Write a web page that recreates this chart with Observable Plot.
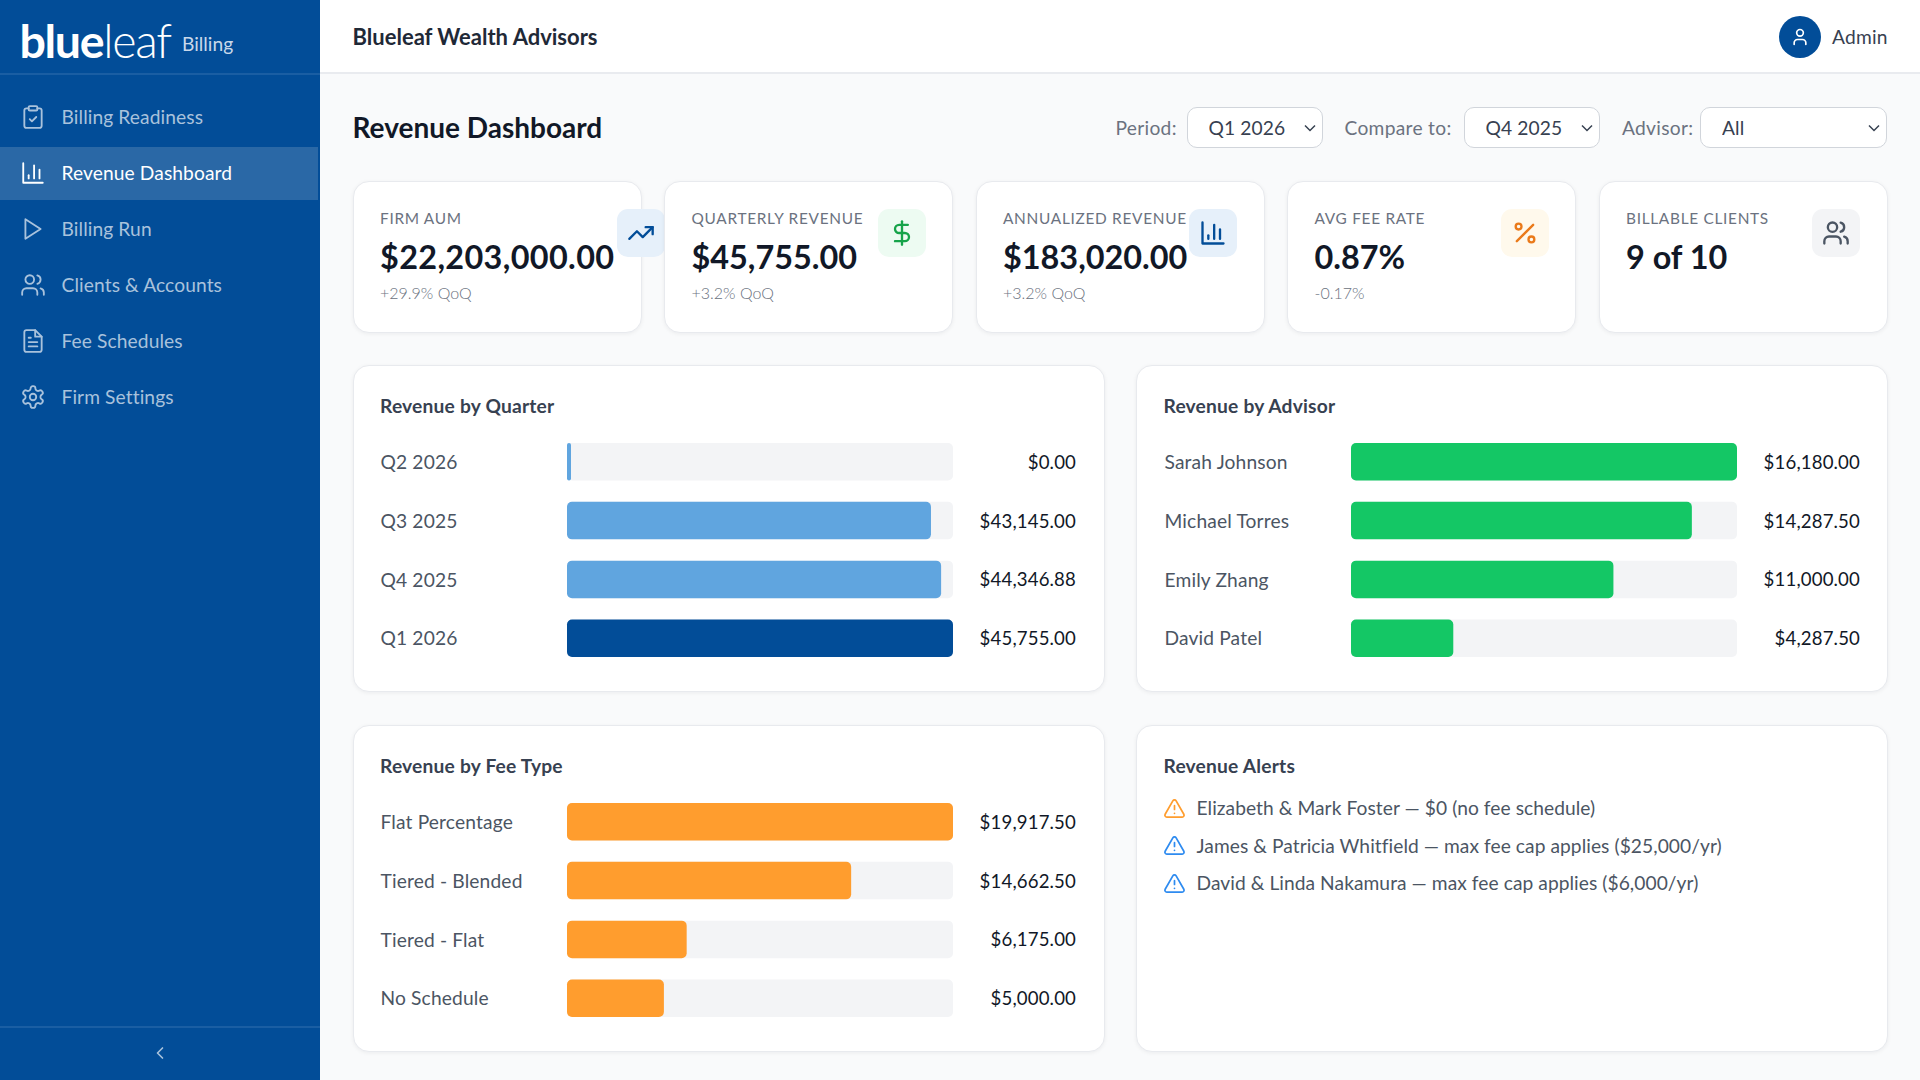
<!DOCTYPE html>
<html lang="en">
<head>
<meta charset="utf-8">
<title>Revenue Dashboard</title>
<script src="https://cdn.jsdelivr.net/npm/d3@7"></script>
<script src="https://cdn.jsdelivr.net/npm/@observablehq/plot@0.6"></script>
<style>
html,body{margin:0;padding:0;width:1920px;height:1080px;overflow:hidden;background:#f9fafb;font-family:Lato,"Noto Sans",sans-serif;color:#111827}
*{box-sizing:border-box}
.abs,.abs-t{position:absolute}
.abs-t{white-space:nowrap;transform:translateY(-50%);line-height:1.2}
#side{position:absolute;left:0;top:0;width:320px;height:1080px;background:#024d98}
#top{position:absolute;left:320px;top:0;width:1600px;height:74px;background:#fff;border-bottom:2px solid #e9ebef}
.nav-active{position:absolute;left:0;width:318px;height:53px;background:#2a68a6}
.ico{position:absolute;fill:none;stroke:currentColor;stroke-width:2;stroke-linecap:round;stroke-linejoin:round}
.card{position:absolute;background:#fff;border:1.5px solid #e8eaee;border-radius:16px;box-shadow:0 1px 4px rgba(17,24,39,.06)}
.tile{position:absolute;width:48px;height:48px;border-radius:11px;top:209px}
select{position:absolute;height:41px;top:107px;border:1.5px solid #d1d5db;border-radius:10px;padding:0 0 0 21px;font:400 19.2px Lato,sans-serif;letter-spacing:.1px;color:#374151;appearance:none;-webkit-appearance:none;
background:#fff url("data:image/svg+xml,%3Csvg xmlns='http://www.w3.org/2000/svg' width='12' height='8' viewBox='0 0 12 8'%3E%3Cpath d='M1 1.5l5 5 5-5' fill='none' stroke='%23374151' stroke-width='1.5'/%3E%3C/svg%3E") no-repeat right 6px center}
.plot{position:absolute}
.plot svg{display:block;overflow:visible}
.plot svg text{letter-spacing:.15px}
</style>
</head>
<body>
<script>
// ---- chart data ----
const quarters = ["Q2 2026", "Q3 2025", "Q4 2025", "Q1 2026"];
const quarterRevenue = [0, 43145, 44346.88, 45755];
const currentQuarter = "Q1 2026";

const advisors = ["Sarah Johnson", "Michael Torres", "Emily Zhang", "David Patel"];
const advisorRevenue = [16180, 14287.5, 11000, 4287.5];

const feeTypes = ["Flat Percentage", "Tiered - Blended", "Tiered - Flat", "No Schedule"];
const feeRevenue = [19917.5, 14662.5, 6175, 5000];

const kpiLabels = ["FIRM AUM", "QUARTERLY REVENUE", "ANNUALIZED REVENUE", "AVG FEE RATE", "BILLABLE CLIENTS"];
const kpiValues = ["$22,203,000.00", "$45,755.00", "$183,020.00", "0.87%", "9 of 10"];
const kpiDeltas = ["+29.9% QoQ", "+3.2% QoQ", "+3.2% QoQ", "-0.17%", ""];

const navItems = ["Billing Readiness", "Revenue Dashboard", "Billing Run", "Clients & Accounts", "Fee Schedules", "Firm Settings"];
const alerts = [
  "Elizabeth & Mark Foster — $0 (no fee schedule)",
  "James & Patricia Whitfield — max fee cap applies ($25,000/yr)",
  "David & Linda Nakamura — max fee cap applies ($6,000/yr)"
];

// ---- helpers ----
const FONT = 'Lato,"Noto Sans",sans-serif';
const P = {
  clip:'<rect x="8" y="2" width="8" height="4" rx="1"/><path d="M16 4h2a2 2 0 0 1 2 2v14a2 2 0 0 1-2 2H6a2 2 0 0 1-2-2V6a2 2 0 0 1 2-2h2"/><path d="m9 14 2 2 4-4"/>',
  bars:'<path d="M3 3v18h18"/><path d="M18 17V9"/><path d="M13 17V5"/><path d="M8 17v-3"/>',
  play:'<polygon points="5 3 19 12 5 21 5 3"/>',
  users:'<path d="M16 21v-2a4 4 0 0 0-4-4H6a4 4 0 0 0-4 4v2"/><circle cx="9" cy="7" r="4"/><path d="M22 21v-2a4 4 0 0 0-3-3.87"/><path d="M16 3.13a4 4 0 0 1 0 7.75"/>',
  file:'<path d="M14 2H6a2 2 0 0 0-2 2v16a2 2 0 0 0 2 2h12a2 2 0 0 0 2-2V8z"/><path d="M14 2v6h6"/><path d="M16 13H8"/><path d="M16 17H8"/><path d="M10 9H8"/>',
  gear:'<path d="M12.22 2h-.44a2 2 0 0 0-2 2v.18a2 2 0 0 1-1 1.73l-.43.25a2 2 0 0 1-2 0l-.15-.08a2 2 0 0 0-2.73.73l-.22.38a2 2 0 0 0 .73 2.73l.15.1a2 2 0 0 1 1 1.72v.51a2 2 0 0 1-1 1.74l-.15.09a2 2 0 0 0-.73 2.73l.22.38a2 2 0 0 0 2.73.73l.15-.08a2 2 0 0 1 2 0l.43.25a2 2 0 0 1 1 1.73V20a2 2 0 0 0 2 2h.44a2 2 0 0 0 2-2v-.18a2 2 0 0 1 1-1.73l.43-.25a2 2 0 0 1 2 0l.15.08a2 2 0 0 0 2.73-.73l.22-.39a2 2 0 0 0-.73-2.73l-.15-.08a2 2 0 0 1-1-1.74v-.5a2 2 0 0 1 1-1.74l.15-.09a2 2 0 0 0 .73-2.73l-.22-.38a2 2 0 0 0-2.73-.73l-.15.08a2 2 0 0 1-2 0l-.43-.25a2 2 0 0 1-1-1.73V4a2 2 0 0 0-2-2z"/><circle cx="12" cy="12" r="3"/>',
  trend:'<polyline points="22 7 13.5 15.5 8.5 10.5 2 17"/><polyline points="16 7 22 7 22 13"/>',
  dollar:'<line x1="12" y1="2" x2="12" y2="22"/><path d="M17 5H9.5a3.5 3.5 0 0 0 0 7h5a3.5 3.5 0 0 1 0 7H6"/>',
  pct:'<line x1="19" y1="5" x2="5" y2="19"/><circle cx="6.5" cy="6.5" r="2.5"/><circle cx="17.5" cy="17.5" r="2.5"/>',
  user:'<path d="M19 21v-2a4 4 0 0 0-4-4H9a4 4 0 0 0-4 4v2"/><circle cx="12" cy="7" r="4"/>',
  warn:'<path d="m21.73 18-8-14a2 2 0 0 0-3.48 0l-8 14A2 2 0 0 0 4 21h16a2 2 0 0 0 1.73-3"/><path d="M12 9v4"/><path d="M12 17h.01"/>',
  back:'<path d="m15 18-6-6 6-6"/>'
};
const root = document.body;
function el(html){const t=document.createElement("template");t.innerHTML=html.trim();return root.appendChild(t.content.firstChild);}
function txt(s,x,cy,style){const n=el(`<div class="abs-t" style="left:${x}px;top:${cy}px;${style||""}"></div>`);n.textContent=s;return n;}
function ico(name,x,y,size,color,sw){return el(`<svg class="ico" viewBox="0 0 24 24" width="${size}" height="${size}" style="left:${x}px;top:${y}px;color:${color};stroke-width:${sw||2}">${P[name]}</svg>`);}

// ---- frame ----
el('<div id="side"></div>');
el('<div id="top"></div>');
el('<div class="abs" style="left:0;top:73px;width:320px;height:2px;background:#1a5ea3"></div>');
el('<div class="abs" style="left:0;top:1026px;width:320px;height:2px;background:#1a5ea3"></div>');
const logo = el('<div class="abs-t" style="left:19.5px;top:41px;color:#fff;font-size:46.5px;letter-spacing:-1.3px"></div>');
logo.innerHTML = '<span style="font-weight:700">blue</span><span style="font-weight:300">leaf</span>';
txt("Billing",182,44,"color:#c8d8ea;font-size:19.2px");

const navY = [117,173,229,285,341,397];
const navIcons = ["clip","bars","play","users","file","gear"];
el('<div class="nav-active" style="top:147px"></div>');
navItems.forEach((s,i)=>{
  const on = i===1, c = on ? "#ffffff" : "#a9c2dc";
  ico(navIcons[i],20,navY[i]-13,26,c,1.7);
  txt(s,61.5,navY[i],`color:${c};font-size:19.2px;letter-spacing:.1px`);
});
ico("back",150,1043,20,"#a9c2dc",2);

txt("Blueleaf Wealth Advisors",352.5,37,"font-size:22px;font-weight:700;color:#1f2937");
el('<div class="abs" style="left:1779px;top:16px;width:42px;height:42px;border-radius:50%;background:#024d98"></div>');
ico("user",1790,27,20,"#fff",2);
txt("Admin",1832,37,"font-size:19.2px;letter-spacing:.2px;color:#374151");

txt("Revenue Dashboard",352.5,128,"font-size:28px;font-weight:700;color:#111827");
const lab = "font-size:19.2px;letter-spacing:.3px;color:#6b7280";
txt("Period:",1115.5,128,lab);
txt("Compare to:",1344.5,128,lab);
txt("Advisor:",1622,128,lab);
el('<select style="left:1186.5px;width:136px"><option>Q1 2026</option></select>');
el('<select style="left:1463.5px;width:136px"><option>Q4 2025</option></select>');
el('<select style="left:1700px;width:187px"><option>All</option></select>');

// ---- KPI cards ----
const kpiX = [352.5,664,975.5,1287,1598.5];
const kpiIcon = [
  ["trend","#e6f0fa","#024d98"],
  ["dollar","#edfbf2","#16a34a"],
  ["bars","#e6f0fa","#024d98"],
  ["pct","#fff9ec","#ea7a1a"],
  ["users","#f3f4f6","#4b5563"]
];
kpiLabels.forEach((s,i)=>{
  const x = kpiX[i];
  el(`<div class="card" style="left:${x}px;top:181px;width:289px;height:152px"></div>`);
  txt(s,x+27.5,218,"font-size:15.4px;color:#6b7280;letter-spacing:.7px");
  txt(kpiValues[i],x+27.5,256.5,"font-size:32.4px;font-weight:700;color:#111827"+(i===0?";letter-spacing:.35px":""));
  if(kpiDeltas[i]) txt(kpiDeltas[i],x+27.5,293,"font-size:16px;color:#6b7280;font-weight:300");
  const [n,bg,fg] = kpiIcon[i];
  const tx = i===0 ? 617 : x+289-27.5-48;
  el(`<div class="tile" style="left:${tx}px;background:${bg}"></div>`);
  ico(n,tx+10,219,28,fg,2);
});

// ---- charts ----
function rows(keys,vals){return keys.map((k,i)=>({k,v:vals[i]}));}
function barPanel({x,y,title,data,fill,cardX}){
  el(`<div class="card" style="left:${cardX??x}px;top:${y}px;width:751.5px;height:327px"></div>`);
  txt(title,x+27,y+41,"font-size:19.2px;letter-spacing:.2px;font-weight:700;color:#374151");
  const labelW = 187, valueW = 123, trackW = 386;
  const max = d3.max(data,d=>d.v);
  const domainY = data.map(d=>d.k);
  const chart = Plot.plot({
    width: labelW+trackW+valueW,
    height: 214,
    marginLeft: labelW, marginRight: valueW, marginTop: 0, marginBottom: 0,
    style:{fontFamily:FONT,fontSize:"19.2px",background:"transparent",overflow:"visible"},
    x:{domain:[0,max],axis:null},
    y:{domain:domainY,axis:null,paddingInner:0.362,paddingOuter:0,round:false},
    marks:[
      Plot.barX(data,{x:()=>max,y:"k",fill:"#f3f4f6",rx:5}),
      Plot.barX(data,{x:"v",y:"k",fill,rx:5}),
      Plot.barX(data.filter(d=>d.v===0),{x:"v",y:"k",fill,rx:2,insetRight:-4}),
      Plot.text(data,{y:"k",text:"k",frameAnchor:"left",textAnchor:"start",dx:-labelW,dy:0.5,fill:"#4b5563"}),
      Plot.text(data,{y:"k",text:d=>d3.format("$,.2f")(d.v),frameAnchor:"right",textAnchor:"end",dx:valueW-0.5,dy:0.5,fontSize:18.6,fill:"#111827"})
    ]
  });
  const wrap = el(`<div class="plot" style="left:${x+27}px;top:${y+78}px"></div>`);
  wrap.appendChild(chart);
}
barPanel({x:353,y:365,title:"Revenue by Quarter",data:rows(quarters,quarterRevenue),
  fill:d=>d.k===currentQuarter?"#024d98":"#60a5df"});
barPanel({x:1136.5,cardX:1136,y:365,title:"Revenue by Advisor",data:rows(advisors,advisorRevenue),fill:"#14c765"});
barPanel({x:353,y:725,title:"Revenue by Fee Type",data:rows(feeTypes,feeRevenue),fill:"#ff9d2e"});

// ---- alerts ----
el('<div class="card" style="left:1136px;top:725px;width:751.5px;height:327px"></div>');
txt("Revenue Alerts",1163.5,766,"font-size:19.2px;letter-spacing:.2px;font-weight:700;color:#374151");
const alertY = [808,845.5,883];
alerts.forEach((s,i)=>{
  ico("warn",1163,alertY[i]-11.5,23,i===0?"#ff9d2e":"#2e8bf0",1.8);
  txt(s,1196.5,alertY[i],"font-size:19.2px;letter-spacing:.06px;color:#4b5563");
});
</script>
</body>
</html>
